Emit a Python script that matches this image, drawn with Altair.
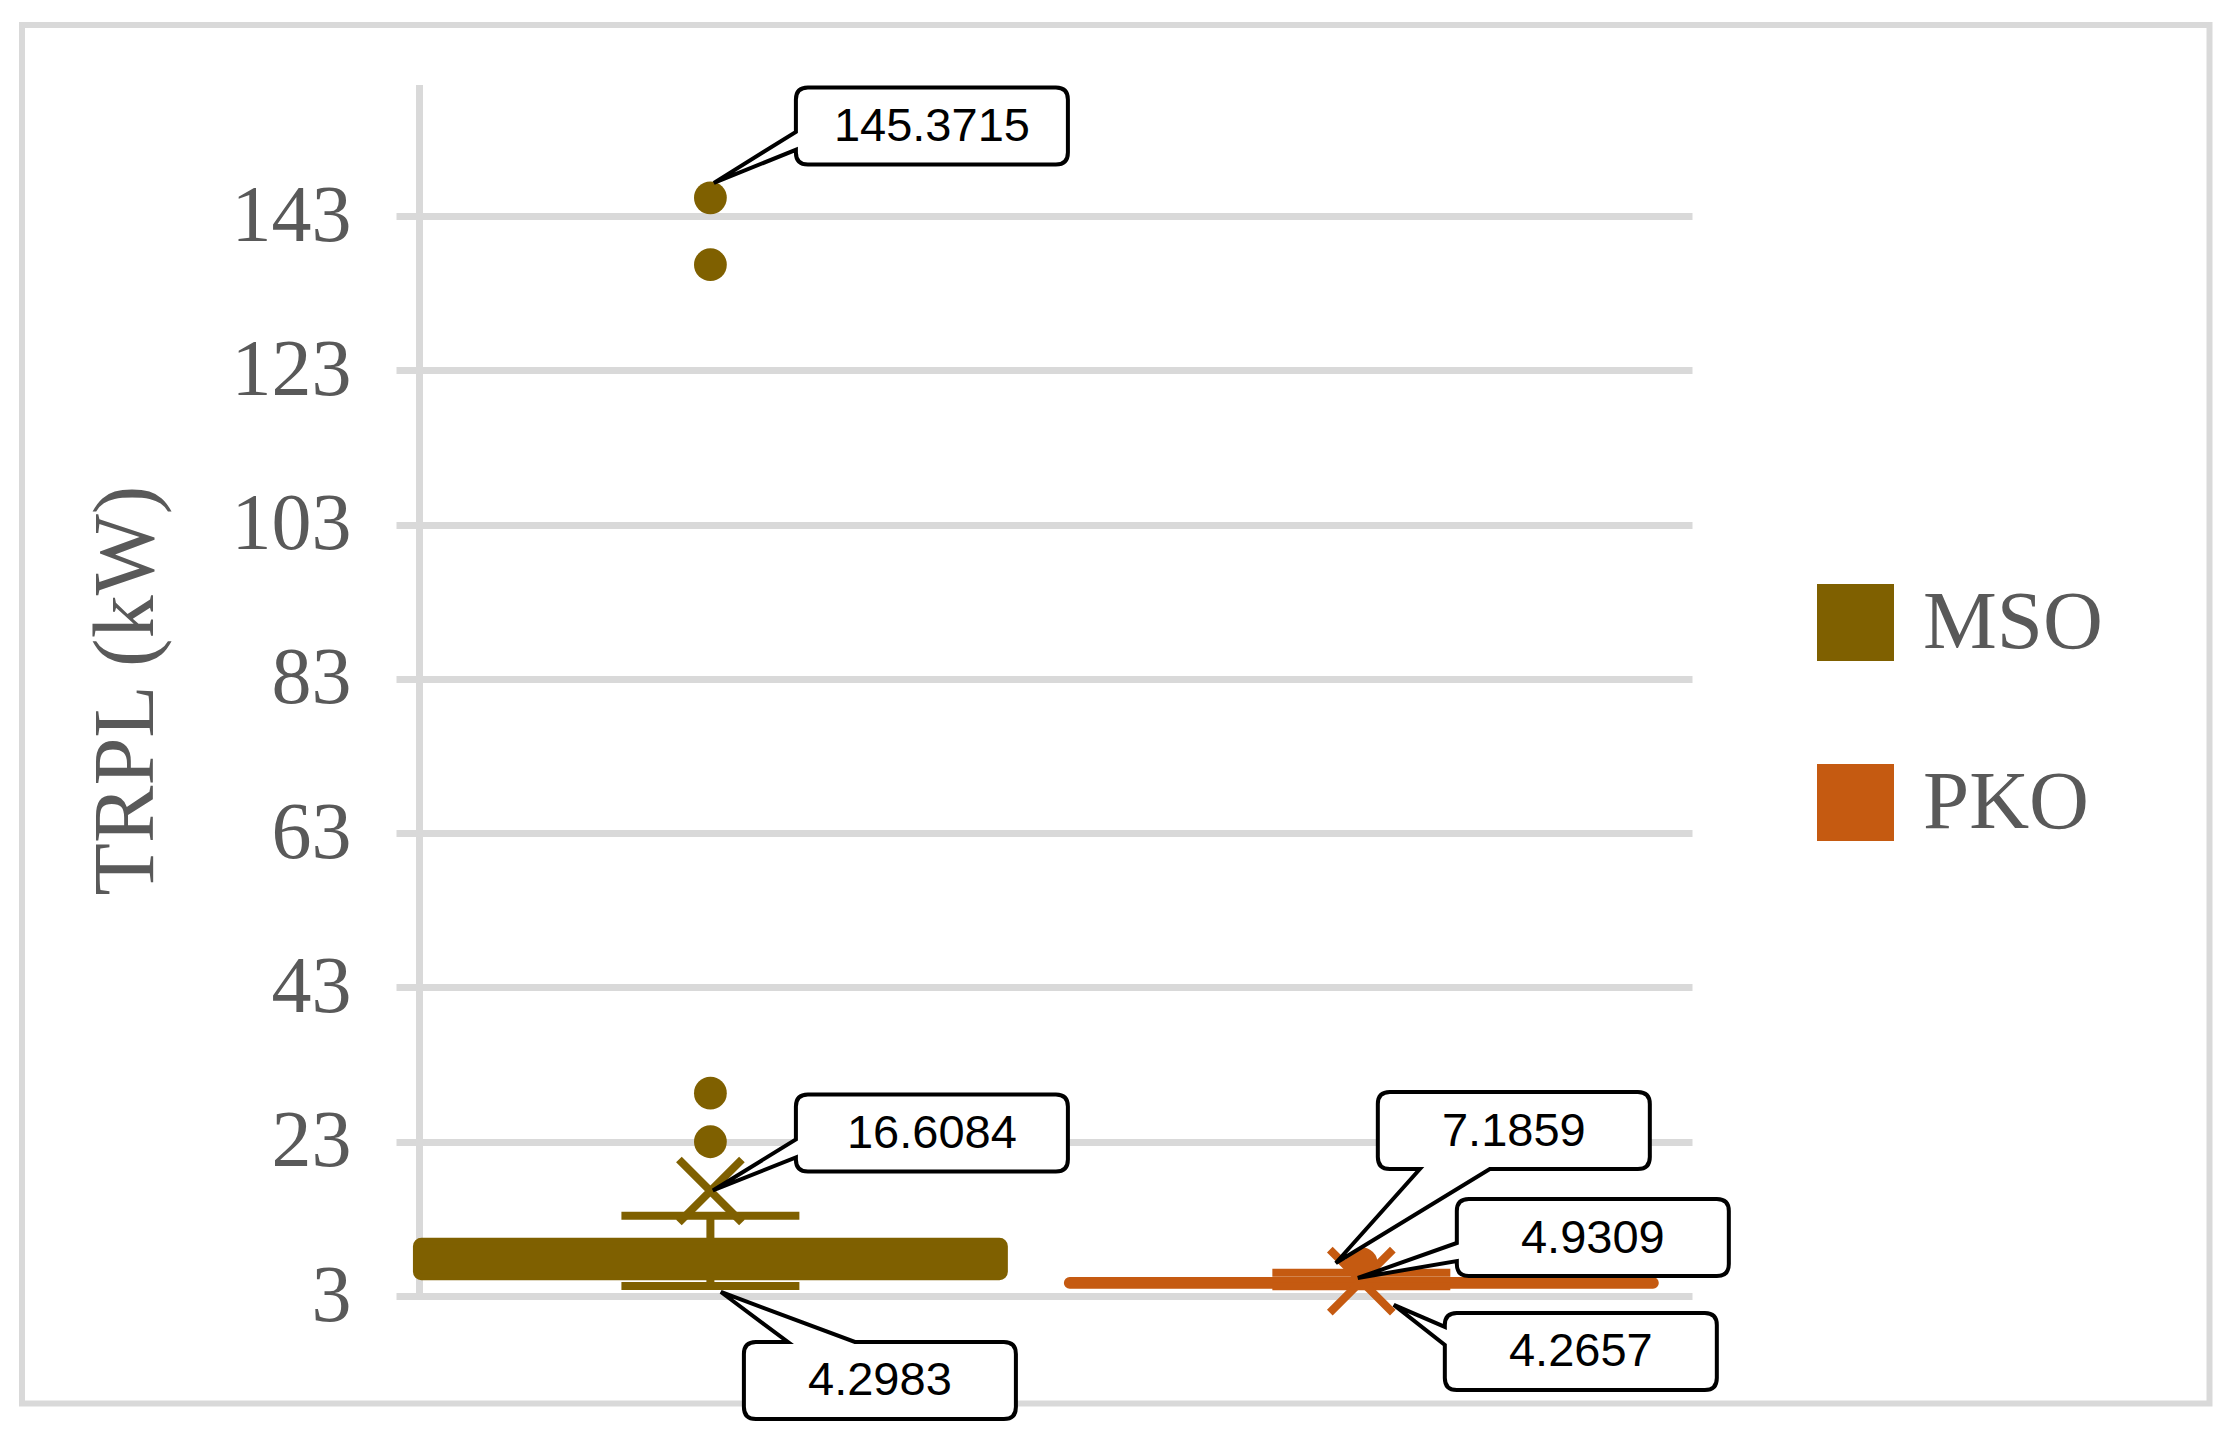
import altair as alt
import pandas as pd

# ---------------- data ----------------
CATS = ["MSO", "PKO"]
COLORS = ["#7F6000", "#C55A11"]
Q1 = [5.5, 4.4]
Q3 = [10.1, 5.0]
WHISK_LO = [4.2983, 4.2657]
WHISK_HI = [13.4, 6.0]
MEANS = [16.6084, 4.9309]
OUTLIER_CAT = ["MSO", "MSO", "MSO", "MSO", "PKO"]
OUTLIER_VAL = [145.3715, 136.7, 29.3, 23.0, 7.1859]
CALLOUT_CAT = ["MSO", "MSO", "MSO", "PKO", "PKO", "PKO"]
CALLOUT_VAL = [145.3715, 16.6084, 4.2983, 7.1859, 4.9309, 4.2657]
CALLOUT_TXT = ["145.3715", "16.6084", "4.2983", "7.1859", "4.9309", "4.2657"]
Y_TICKS = [3, 23, 43, 63, 83, 103, 123, 143]

# ---------------- layout ----------------
W, H = 1296, 1211
PAD = {"left": 396, "top": 85, "right": 2233 - 396 - 1296, "bottom": 1430 - 85 - 1211}
CAT_POS = {"MSO": 1.0, "PKO": 2.0}
X_DOMAIN = [0.517, 2.508]
Y_DOMAIN = [3, 160]
BOX_HALF = 0.4516
CAP_HALF = 0.1367
GRID = "#d9d9d9"
TXT = "#595959"

# callout geometry, pixels relative to anchor: left, top, tip, side, base1, base2
CALLOUT_GEOM = [
    (85.5, -110.3, (3.5, -15), "left", -66, -48),
    (85.5, -96.6, (2.5, -0.6), "left", -51.6, -33.6),
    (33.5, 56, (10.5, 6), "top", 77.5, 144.5),
    (16.5, -171.7, (-25.5, -0.7), "bottom", 58.5, 128.5),
    (95.5, -82.1, (-3.5, -3.1), "left", -38.1, -20.1),
    (83.5, 26.7, (32.5, 18.7), "left", 40.7, 58.7),
]
CB_W, CB_H, CB_R = 272, 77, 12


def callout_path(L, T, tip, side, b1, b2, w=CB_W, h=CB_H, r=CB_R):
    R, B = L + w, T + h
    tx, ty = tip
    p = [f"M{L + r},{T}"]
    if side == "top":
        p += [f"L{b1},{T}", f"L{tx},{ty}", f"L{b2},{T}"]
    p += [f"L{R - r},{T}", f"Q{R},{T},{R},{T + r}", f"L{R},{B - r}", f"Q{R},{B},{R - r},{B}"]
    if side == "bottom":
        p += [f"L{b2},{B}", f"L{tx},{ty}", f"L{b1},{B}"]
    p += [f"L{L + r},{B}", f"Q{L},{B},{L},{B - r}"]
    if side == "left":
        p += [f"L{L},{b2}", f"L{tx},{ty}", f"L{L},{b1}"]
    p += [f"L{L},{T + r}", f"Q{L},{T},{L + r},{T}", "Z"]
    return " ".join(p)


xscale = alt.Scale(domain=X_DOMAIN, nice=False, zero=False)
yscale = alt.Scale(domain=Y_DOMAIN, nice=False, zero=False)
yaxis = alt.Axis(
    values=Y_TICKS, grid=True, gridColor=GRID, gridWidth=7, domain=False, ticks=False,
    labelFont="Liberation Serif", labelFontSize=80, labelColor=TXT, labelPadding=45,
    title="TRPL (kW)", titleFont="Liberation Serif", titleFontSize=86,
    titleFontWeight="normal", titleColor=TXT, titleX=-270, titleY=605,
    titleBaseline="middle", titleAngle=270,
)
color_map = dict(zip(CATS, COLORS))


def X(f):
    return alt.X(f, type="quantitative", scale=xscale, axis=None)


def Y(f):
    return alt.Y(f, type="quantitative", scale=yscale, axis=yaxis)


stats = pd.DataFrame({
    "cat": CATS, "q1": Q1, "q3": Q3, "lo": WHISK_LO, "hi": WHISK_HI, "mean": MEANS,
})
stats["x"] = stats["cat"].map(CAT_POS)
stats["bx1"] = stats["x"] - BOX_HALF
stats["bx2"] = stats["x"] + BOX_HALF
stats["cx1"] = stats["x"] - CAP_HALF
stats["cx2"] = stats["x"] + CAP_HALF
stats["col"] = stats["cat"].map(color_map)

outl = pd.DataFrame({"cat": OUTLIER_CAT, "v": OUTLIER_VAL})
outl["x"] = outl["cat"].map(CAT_POS)
outl["col"] = outl["cat"].map(color_map)

frame = alt.Chart(pd.DataFrame({"a": [0]})).mark_rect(
    filled=False, stroke=GRID, strokeWidth=6
).encode(x=alt.value(22 - 396), x2=alt.value(2209.5 - 396),
         y=alt.value(25 - 85), y2=alt.value(1403.5 - 85))

axis_line = alt.Chart(pd.DataFrame({"a": [0]})).mark_rule(
    color=GRID, strokeWidth=7
).encode(x=alt.value(23.5), y=alt.value(0), y2=alt.value(H + 4))

base = alt.Chart(stats)
whisk = base.mark_rule(strokeWidth=8).encode(
    x=X("x"), y=Y("lo"), y2="hi", color=alt.Color("col:N", scale=None))
box = base.mark_rect(strokeWidth=7, cornerRadius=5).encode(
    x=X("bx1"), x2="bx2", y=Y("q1"), y2="q3",
    color=alt.Color("cat:N", scale=alt.Scale(domain=CATS, range=COLORS),
                    legend=alt.Legend(
                        title=None, orient="none", legendX=1418, legendY=496,
                        symbolType="square", symbolSize=5929, symbolStrokeWidth=0,
                        symbolOpacity=1, labelFont="Liberation Serif", labelFontSize=83,
                        labelColor=TXT, labelOffset=26, rowPadding=96, padding=0,
                        labelLimit=0)),
    stroke=alt.Stroke("col:N", scale=None))
cap_lo = base.mark_rule(strokeWidth=8).encode(
    x=X("cx1"), x2="cx2", y=Y("lo"), color=alt.Color("col:N", scale=None))
cap_hi = base.mark_rule(strokeWidth=8).encode(
    x=X("cx1"), x2="cx2", y=Y("hi"), color=alt.Color("col:N", scale=None))
outliers = alt.Chart(outl).mark_circle(size=1075, opacity=1).encode(
    x=X("x"), y=Y("v"), color=alt.Color("col:N", scale=None))
means = base.mark_point(
    shape="M-1,-1L1,1M-1,1L1,-1", size=3969, filled=False, strokeWidth=8, opacity=1
).encode(x=X("x"), y=Y("mean"), color=alt.Color("col:N", scale=None))

layers = [frame, axis_line, whisk, box, cap_lo, cap_hi, outliers, means]

for cat, val, txt, geom in zip(CALLOUT_CAT, CALLOUT_VAL, CALLOUT_TXT, CALLOUT_GEOM):
    L, T, tip, side, b1, b2 = geom
    d = pd.DataFrame({"x": [CAT_POS[cat]], "v": [val], "t": [txt]})
    c = alt.Chart(d)
    layers.append(c.mark_point(
        shape=callout_path(L, T, tip, side, b1, b2), size=4, filled=True,
        fill="white", stroke="black", strokeWidth=4, opacity=1, strokeJoin="miter"
    ).encode(x=X("x"), y=Y("v")))
    layers.append(c.mark_text(
        font="Liberation Sans", fontSize=47, color="black", align="center",
        baseline="middle", dx=L + CB_W / 2, dy=T + CB_H / 2 + 1
    ).encode(x=X("x"), y=Y("v"), text="t:N"))

chart = alt.layer(*layers).properties(
    width=W, height=H, padding=PAD,
    autosize=alt.AutoSizeParams(type="none"),
    background="white",
).configure_view(stroke=None)

chart.save("out.html", embed_options={"renderer": "svg", "actions": False})
